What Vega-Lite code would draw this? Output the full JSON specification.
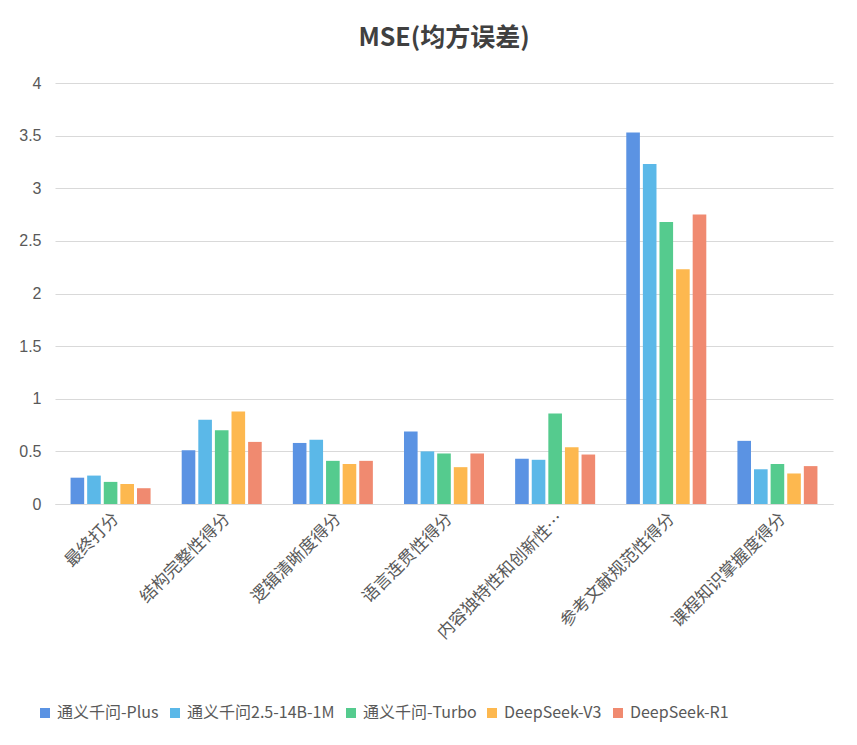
{
  "$schema": "https://vega.github.io/schema/vega-lite/v6.json",
  "width": 778,
  "height": 421,
  "padding": {"left": 18, "top": 26, "right": 20, "bottom": 10},
  "background": "white",
  "title": {"text": "MSE(均方误差)", "fontSize": 25, "fontWeight": "bold", "color": "#404040", "font": "Noto Sans CJK SC", "offset": 24},
  "data": {"values": [
    {"c": "最终打分", "m": "通义千问-Plus", "v": 0.25},
    {"c": "最终打分", "m": "通义千问2.5-14B-1M", "v": 0.27},
    {"c": "最终打分", "m": "通义千问-Turbo", "v": 0.21},
    {"c": "最终打分", "m": "DeepSeek-V3", "v": 0.19},
    {"c": "最终打分", "m": "DeepSeek-R1", "v": 0.15},
    {"c": "结构完整性得分", "m": "通义千问-Plus", "v": 0.51},
    {"c": "结构完整性得分", "m": "通义千问2.5-14B-1M", "v": 0.80},
    {"c": "结构完整性得分", "m": "通义千问-Turbo", "v": 0.70},
    {"c": "结构完整性得分", "m": "DeepSeek-V3", "v": 0.88},
    {"c": "结构完整性得分", "m": "DeepSeek-R1", "v": 0.59},
    {"c": "逻辑清晰度得分", "m": "通义千问-Plus", "v": 0.58},
    {"c": "逻辑清晰度得分", "m": "通义千问2.5-14B-1M", "v": 0.61},
    {"c": "逻辑清晰度得分", "m": "通义千问-Turbo", "v": 0.41},
    {"c": "逻辑清晰度得分", "m": "DeepSeek-V3", "v": 0.38},
    {"c": "逻辑清晰度得分", "m": "DeepSeek-R1", "v": 0.41},
    {"c": "语言连贯性得分", "m": "通义千问-Plus", "v": 0.69},
    {"c": "语言连贯性得分", "m": "通义千问2.5-14B-1M", "v": 0.50},
    {"c": "语言连贯性得分", "m": "通义千问-Turbo", "v": 0.48},
    {"c": "语言连贯性得分", "m": "DeepSeek-V3", "v": 0.35},
    {"c": "语言连贯性得分", "m": "DeepSeek-R1", "v": 0.48},
    {"c": "内容独特性和创新性得分", "m": "通义千问-Plus", "v": 0.43},
    {"c": "内容独特性和创新性得分", "m": "通义千问2.5-14B-1M", "v": 0.42},
    {"c": "内容独特性和创新性得分", "m": "通义千问-Turbo", "v": 0.86},
    {"c": "内容独特性和创新性得分", "m": "DeepSeek-V3", "v": 0.54},
    {"c": "内容独特性和创新性得分", "m": "DeepSeek-R1", "v": 0.47},
    {"c": "参考文献规范性得分", "m": "通义千问-Plus", "v": 3.53},
    {"c": "参考文献规范性得分", "m": "通义千问2.5-14B-1M", "v": 3.23},
    {"c": "参考文献规范性得分", "m": "通义千问-Turbo", "v": 2.68},
    {"c": "参考文献规范性得分", "m": "DeepSeek-V3", "v": 2.23},
    {"c": "参考文献规范性得分", "m": "DeepSeek-R1", "v": 2.75},
    {"c": "课程知识掌握度得分", "m": "通义千问-Plus", "v": 0.60},
    {"c": "课程知识掌握度得分", "m": "通义千问2.5-14B-1M", "v": 0.33},
    {"c": "课程知识掌握度得分", "m": "通义千问-Turbo", "v": 0.38},
    {"c": "课程知识掌握度得分", "m": "DeepSeek-V3", "v": 0.29},
    {"c": "课程知识掌握度得分", "m": "DeepSeek-R1", "v": 0.36}
  ]},
  "mark": {"type": "bar"},
  "encoding": {
    "x": {"field": "c", "type": "nominal", "sort": null, "title": null,
      "scale": {"paddingInner": 0.28, "paddingOuter": 0.14},
      "axis": {"labelAngle": -45, "labelFontSize": 17, "labelColor": "#595959", "labelFont": "Noto Sans CJK SC", "domainColor": "#d9d9d9", "ticks": false, "labelPadding": 6}},
    "xOffset": {"field": "m", "type": "nominal", "sort": null, "scale": {"paddingInner": 0.18}},
    "y": {"field": "v", "type": "quantitative", "title": null,
      "scale": {"domain": [0, 4]},
      "axis": {"values": [0, 0.5, 1, 1.5, 2, 2.5, 3, 3.5, 4], "format": "~g", "labelFontSize": 16, "labelColor": "#595959", "labelFont": "Liberation Sans", "domain": false, "ticks": false, "gridColor": "#d9d9d9", "labelPadding": 14}},
    "color": {"field": "m", "type": "nominal", "sort": null, "title": null,
      "scale": {"domain": ["通义千问-Plus", "通义千问2.5-14B-1M", "通义千问-Turbo", "DeepSeek-V3", "DeepSeek-R1"],
        "range": ["#5B93E3", "#5BB8E8", "#55CB8E", "#FDB84F", "#F08A70"]},
      "legend": {"orient": "none", "legendX": -18, "legendY": 622, "direction": "horizontal", "symbolType": "square", "labelFontSize": 16, "labelColor": "#595959", "labelFont": "Noto Sans CJK SC", "columnPadding": 8, "symbolSize": 100}}
  },
  "config": {"view": {"stroke": null}}
}
